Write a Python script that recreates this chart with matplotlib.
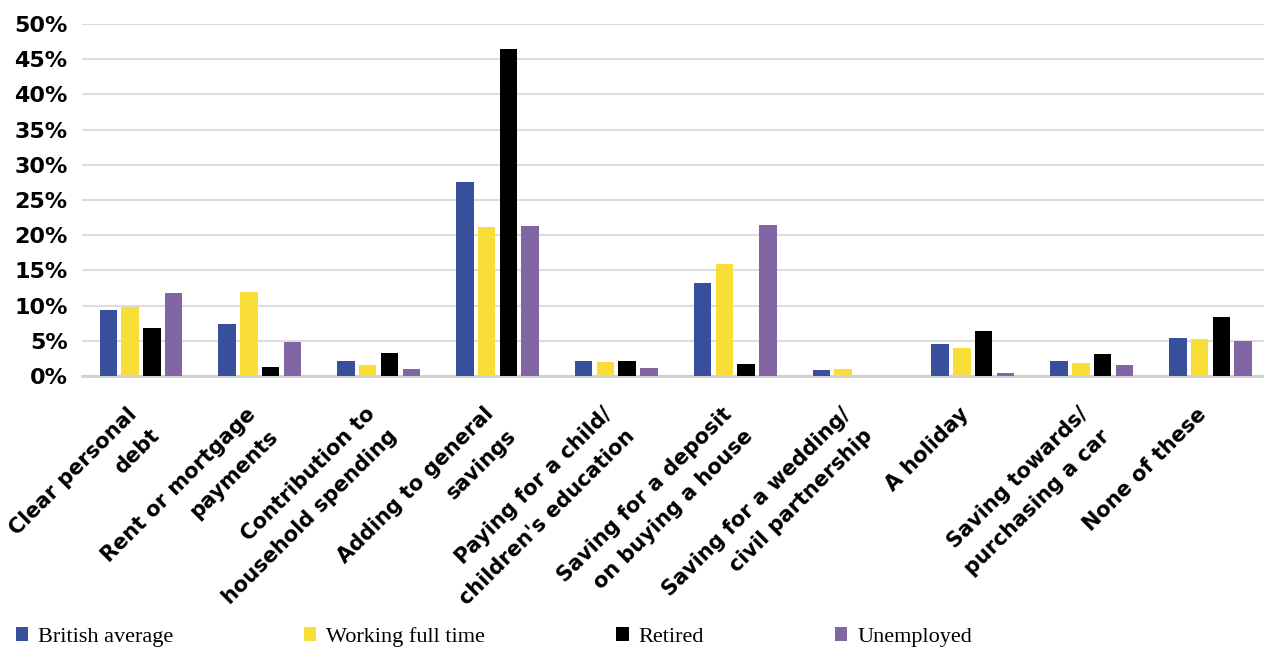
import numpy as np
import matplotlib
matplotlib.use("Agg")
import matplotlib.pyplot as plt
from matplotlib.patches import Patch
from matplotlib.ticker import FuncFormatter
from matplotlib.transforms import ScaledTranslation

categories = ["Clear personal\ndebt", "Rent or mortgage\npayments", "Contribution to\nhousehold spending",
              "Adding to general\nsavings", "Paying for a child/\nchildren's education",
              "Saving for a deposit\non buying a house", "Saving for a wedding/\ncivil partnership",
              "A holiday", "Saving towards/\npurchasing a car", "None of these"]

series_names = ["British average", "Working full time", "Retired", "Unemployed"]
british_avg = [9.4, 7.4, 2.2, 27.5, 2.2, 13.2, 0.9, 4.5, 2.1, 5.4]
working_ft = [9.8, 11.9, 1.5, 21.2, 2.0, 15.9, 1.0, 4.0, 1.9, 5.2]
retired = [6.8, 1.3, 3.2, 46.5, 2.1, 1.7, 0.0, 6.4, 3.1, 8.4]
unemployed = [11.8, 4.9, 1.0, 21.3, 1.1, 21.4, 0.0, 0.5, 1.6, 5.0]

colors = ["#384F9C", "#FADE38", "#000000", "#8166A3"]

fig = plt.figure(figsize=(12.64, 6.5), dpi=100)
ax = fig.add_axes([0.0645, 0.4215, 0.9355, 0.5415])

x = np.arange(len(categories))
pitch = 0.183
width = 0.147
for i, (vals, col) in enumerate(zip([british_avg, working_ft, retired, unemployed], colors)):
    ax.bar(x + (i - 1.5) * pitch, vals, width, color=col, zorder=3)

ax.set_xlim(-0.5, 9.45)
ax.set_ylim(0, 50)
ax.set_yticks(range(0, 51, 5))
ax.yaxis.set_major_formatter(FuncFormatter(lambda v, p: f"{int(v)}%"))
ax.grid(axis="y", color="#DDDDDD", lw=1.5, zorder=0)
for s in ["top", "right", "left"]:
    ax.spines[s].set_visible(False)
ax.spines["bottom"].set_color("#D0D0D0")
ax.spines["bottom"].set_linewidth(2)
ax.tick_params(axis="y", length=0, pad=10, labelsize=16)
ax.tick_params(axis="x", length=0, pad=20)
for lab in ax.get_yticklabels():
    lab.set_fontweight("bold")

ax.set_xticks(x)
ax.set_xticklabels(categories, rotation=45, ha="right", va="top", rotation_mode="anchor",
                   fontsize=15, fontweight="bold", multialignment="right", linespacing=1.7)
shift = ScaledTranslation(-0.14, 0.0, fig.dpi_scale_trans)
for lab in ax.get_xticklabels():
    lab.set_transform(lab.get_transform() + shift)

handles = [Patch(facecolor=c) for c in colors]
fig.legend(handles, series_names, loc="center left", bbox_to_anchor=(0.0, 0.02), ncol=4,
           frameon=False, prop={"family": "Liberation Serif", "size": 16},
           handlelength=0.55, handleheight=0.55, handletextpad=0.45, columnspacing=5.9,
           borderpad=0.2)

fig.savefig("out.png", dpi=100)
